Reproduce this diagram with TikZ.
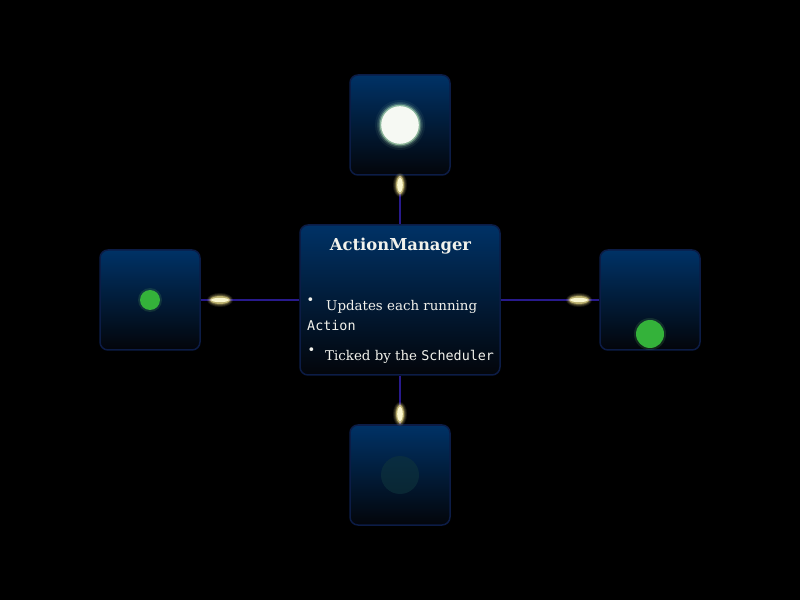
\documentclass[tikz,border=0pt]{standalone}
\usepackage{fontspec}
\setmainfont{DejaVu Serif}
\newfontfamily\monof{DejaVu Sans Mono}
\definecolor{boxtop}{RGB}{0,50,102}
\definecolor{boxbot}{RGB}{3,5,10}
\definecolor{boxline}{RGB}{12,28,70}
\definecolor{connc}{RGB}{40,26,140}
\definecolor{txtc}{RGB}{242,242,236}
\definecolor{glowc}{RGB}{250,246,205}
\definecolor{halo}{RGB}{240,225,140}
\definecolor{greenc}{RGB}{52,178,58}
\definecolor{greenhalo}{RGB}{110,210,100}
\definecolor{whitec}{RGB}{246,249,243}
\definecolor{whitehalo}{RGB}{200,250,200}
\definecolor{dimc}{RGB}{15,52,60}
\tikzset{
  box/.style={draw=boxline, line width=1.5pt, rounded corners=8pt,
    top color=boxtop, bottom color=boxbot, inner sep=0pt},
  smallbox/.style={box, minimum width=100pt, minimum height=100pt},
  conn/.style={draw=connc, line width=1.5pt},
  txt/.style={text=txtc, inner sep=0pt},
}
\begin{document}
\begin{tikzpicture}[x=1pt,y=1pt]
\fill[black] (0,0) rectangle (800,600);
\useasboundingbox (0,0) rectangle (800,600);
% boxes
\node[box, minimum width=200pt, minimum height=150pt] (center) at (400,300) {};
\node[smallbox] (top) at (400,475) {};
\node[smallbox] (left) at (150,300) {};
\node[smallbox] (right) at (650,300) {};
\node[smallbox] (bottom) at (400,125) {};
% connectors
\draw[conn] (center.north) -- (top.south);
\draw[conn] (center.west) -- (left.east);
\draw[conn] (center.east) -- (right.west);
\draw[conn] (center.south) -- (bottom.north);
% glowing sparks on connectors
\foreach \p/\rx/\ry in {{(400,415)}/4/9, {(400,186)}/4/9, {(220,300)}/10/4, {(579,300)}/10/4}{
  \fill[halo, opacity=0.10] \p ellipse [x radius=\rx+3, y radius=\ry+3];
  \fill[halo, opacity=0.15] \p ellipse [x radius=\rx+2, y radius=\ry+2];
  \fill[halo, opacity=0.25] \p ellipse [x radius=\rx+1, y radius=\ry+1];
  \fill[halo, opacity=0.6] \p ellipse [x radius=\rx, y radius=\ry];
  \fill[glowc] \p ellipse [x radius=\rx-1.2, y radius=\ry-1.8];
}
% top circle (white)
\fill[whitehalo, opacity=0.06] (400,475) circle (25);
\fill[whitehalo, opacity=0.12] (400,475) circle (23);
\fill[whitehalo, opacity=0.25] (400,475) circle (21.5);
\fill[whitehalo, opacity=0.5] (400,475) circle (20.2);
\fill[whitec] (400,475) circle (18.8);
% left circle
\fill[greenhalo, opacity=0.15] (150,300) circle (12);
\fill[greenc] (150,300) circle (10);
% right circle
\fill[greenhalo, opacity=0.15] (650,266) circle (16);
\fill[greenc] (650,266) circle (14);
% bottom dim circle
\fill[dimc, opacity=0.6] (400,125) circle (19);
% texts
\node[txt, anchor=base] (title) at (400.5,349) {\fontsize{16.4}{20}\selectfont\bfseries ActionManager};
\node[txt, anchor=center] (b1) at (310.5,299) {\fontsize{13}{15}\selectfont •};
\node[txt, anchor=base west] (l1) at (326,289.3) {\fontsize{13.4}{15}\selectfont Updates each running};
\node[txt, anchor=base west] (l2) at (307,269.3) {\fontsize{13.4}{15}\selectfont\monof Action};
\node[txt, anchor=center] (b2) at (311.5,249) {\fontsize{13}{15}\selectfont •};
\node[txt, anchor=base west] (l3) at (325,239.3) {\fontsize{13.4}{15}\selectfont Ticked by the {\monof Scheduler}};
\end{tikzpicture}
\end{document}
